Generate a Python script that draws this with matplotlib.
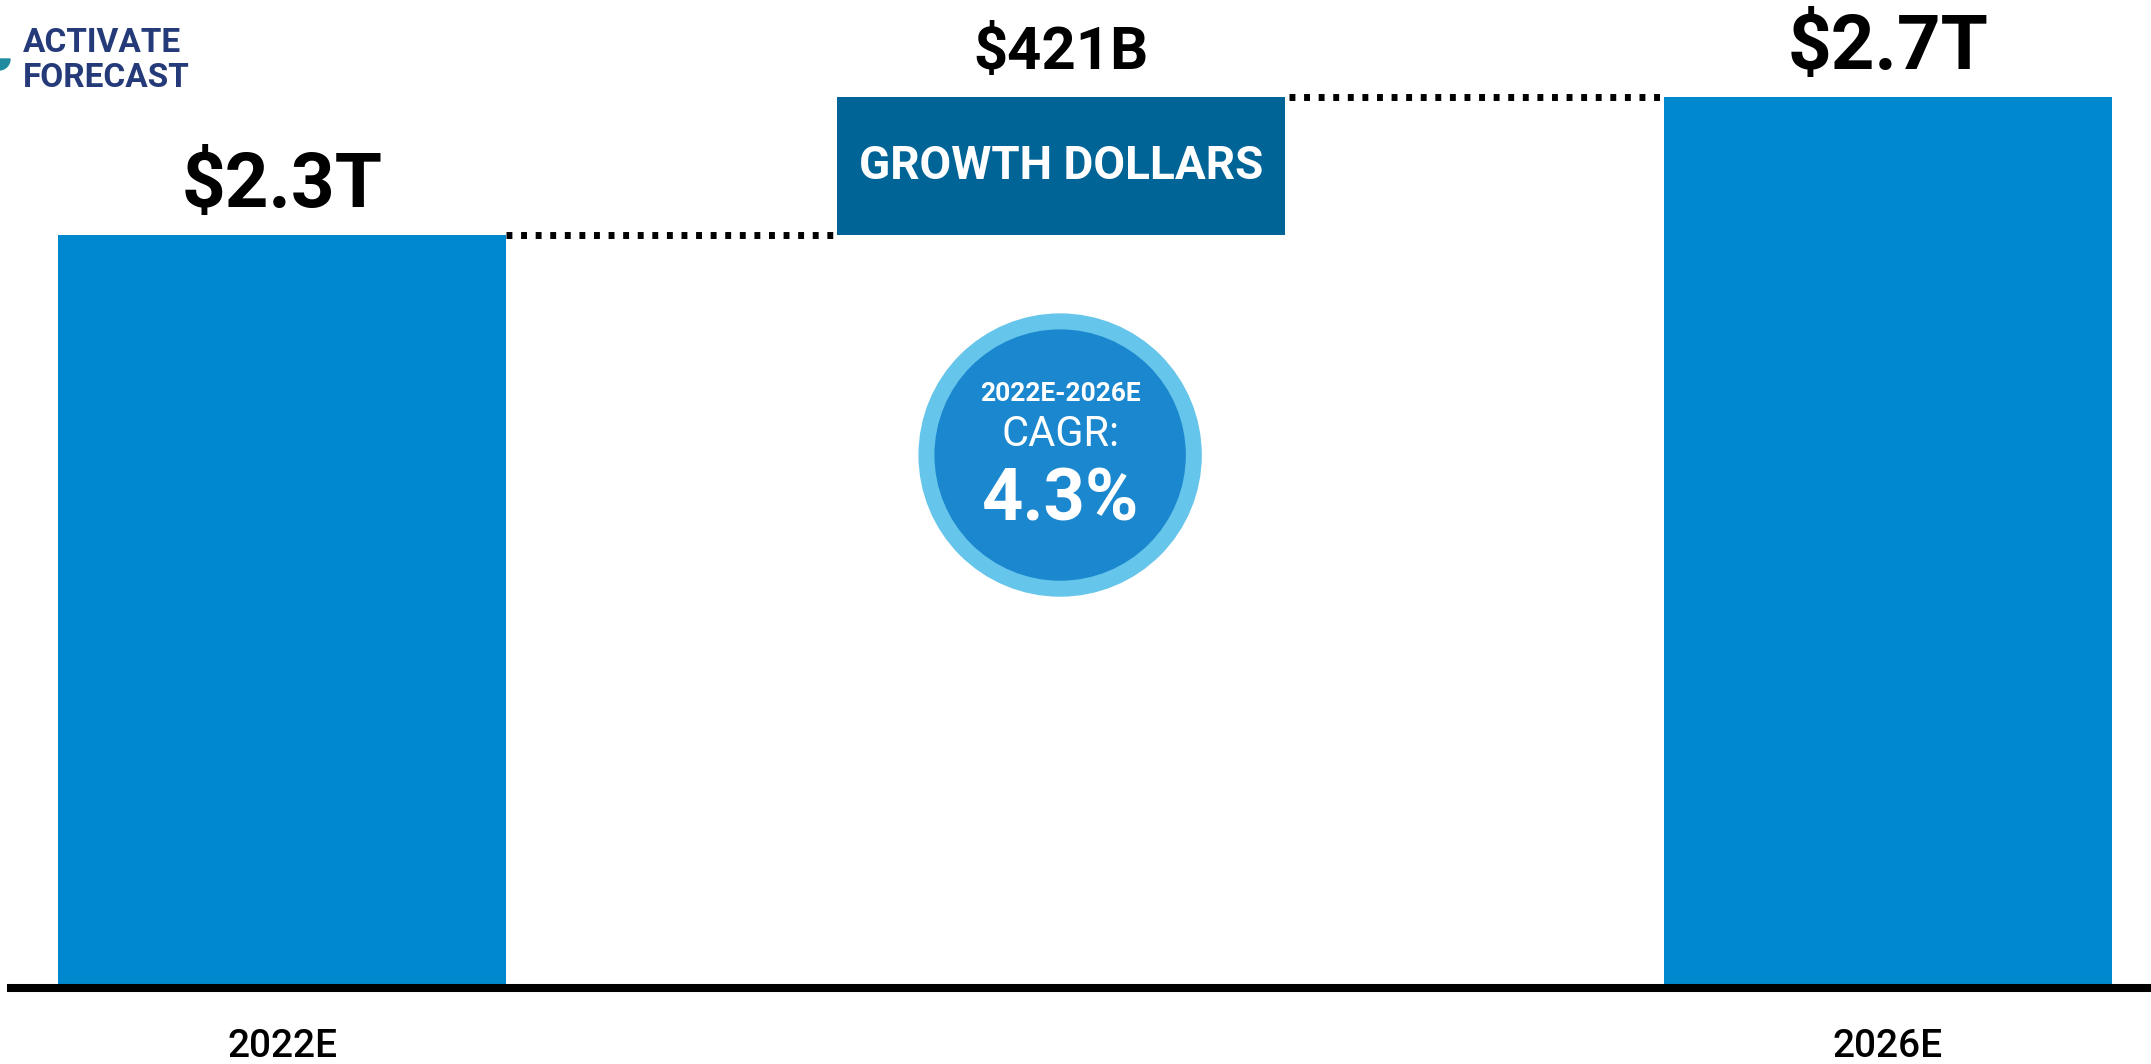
import matplotlib.pyplot as plt
from matplotlib.patches import Ellipse, Wedge

plt.rcParams['font.family'] = ['Roboto', 'DejaVu Sans']

# values in trillions of dollars
years = ['2022E', '2026E']
start_value = 2.3
growth_value = 0.421
end_value = start_value + growth_value
value_labels = ['$2.3T', '$2.7T']
growth_label = '$421B'
cagr_period = '2022E-2026E'
cagr_value = '4.3%'

bar_blue = '#0088CF'
box_blue = '#006497'
ring_blue = '#66C5EA'
disc_blue = '#1A87CF'
navy = '#253A78'

W, H = 2151, 1064
fig = plt.figure(figsize=(W / 100, H / 100), dpi=100)
ax = fig.add_axes([0, 76 / H, 1, 988 / H])

x_pos = [0, 0.97, 2]
bar_w = 0.558
ax.set_xlim(-0.3512, 2.3275)
ax.set_ylim(0, 3.018)
ax.axis('off')

# start/end bars + floating growth box
ax.bar([x_pos[0], x_pos[2]], [start_value, end_value], width=bar_w, color=bar_blue, zorder=2)
ax.bar(x_pos[1], growth_value, bottom=start_value, width=bar_w, color=box_blue, zorder=2)

# dotted connectors
ax.plot([x_pos[0] + bar_w / 2, x_pos[1] - bar_w / 2 - 0.005], [start_value] * 2,
        color='black', lw=5, linestyle=(0, (0.85, 1.25)), zorder=1)
ax.plot([x_pos[1] + bar_w / 2 + 0.005, x_pos[2] - bar_w / 2], [end_value] * 2,
        color='black', lw=5, linestyle=(0, (0.85, 1.25)), zorder=1)

# baseline
ax.axhline(0, xmin=11 / W, xmax=1, color='black', lw=5.8, zorder=3, clip_on=False)

# value labels
for x, v, lab in zip([x_pos[0], x_pos[2]], [start_value, end_value], value_labels):
    ax.annotate(lab, xy=(x, v), xytext=(0, 35), textcoords='offset points',
                ha='center', va='center', fontsize=55, fontweight='bold', color='black')
ax.annotate(growth_label, xy=(x_pos[1], end_value), xytext=(0, 32), textcoords='offset points',
            ha='center', va='center', fontsize=43, fontweight='bold', color='black')
ax.text(x_pos[1], start_value + growth_value / 2, 'GROWTH DOLLARS', ha='center', va='center',
        fontsize=33, fontweight='bold', color='white', zorder=4)

# year labels
for x, yr in zip([x_pos[0], x_pos[2]], years):
    ax.annotate(yr, xy=(x, 0), xytext=(0, -42), textcoords='offset points',
                ha='center', va='center', fontsize=28, fontweight='medium', color='black')

# CAGR badge
cx, cy = 0.969, 1.628
ppx, ppy = 803, 327.4  # pixels per data unit
ax.add_patch(Ellipse((cx, cy), 2 * 141 / ppx, 2 * 141 / ppy, color=ring_blue, zorder=3))
ax.add_patch(Ellipse((cx, cy), 2 * 125 / ppx, 2 * 125 / ppy, color=disc_blue, zorder=4))
ax.annotate(cagr_period, xy=(cx, cy), xytext=(0, 44), textcoords='offset points',
            ha='center', va='center', fontsize=19, fontweight='bold', color='white', zorder=5)
ax.annotate('CAGR:', xy=(cx, cy), xytext=(0, 15), textcoords='offset points',
            ha='center', va='center', fontsize=30, fontweight='normal', color='white', zorder=5)
ax.annotate(cagr_value, xy=(cx, cy), xytext=(0, -33), textcoords='offset points',
            ha='center', va='center', fontsize=52, fontweight='bold', color='white', zorder=5)

# logo
fig.text(23 / W, 1 - 43 / H, 'ACTIVATE', ha='left', va='center', fontsize=24,
         fontweight='bold', color=navy)
fig.text(23 / W, 1 - 78 / H, 'FORECAST', ha='left', va='center', fontsize=24,
         fontweight='bold', color=navy)
logo_ax = fig.add_axes([0, 1 - 75 / H, 12 / W, 20 / H])
logo_ax.axis('off')
logo_ax.set_xlim(0, 12)
logo_ax.set_ylim(0, 20)
logo_ax.add_patch(Wedge((-1, 16), 11, 270, 360, color='#1E8C9E'))

fig.savefig('out.png', dpi=100)
